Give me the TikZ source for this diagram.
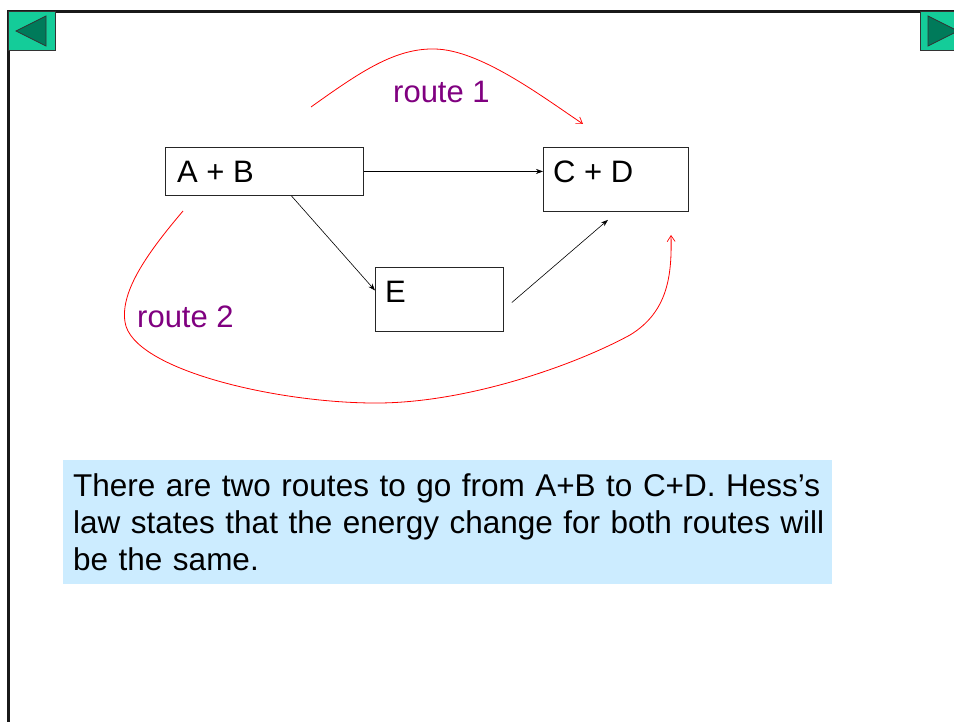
\documentclass[tikz,border=0pt]{standalone}
\usepackage{fontspec}
\setmainfont{Liberation Sans}
\usetikzlibrary{arrows.meta,calc}
\definecolor{btn}{RGB}{20,204,153}
\definecolor{btndark}{RGB}{0,122,90}
\definecolor{rpurple}{RGB}{128,0,128}
\definecolor{note}{RGB}{204,236,255}
\begin{document}
\begin{tikzpicture}[x=1pt,y=-1pt,
  box/.style={draw=black!85,line width=0.9pt,anchor=north west,inner sep=0pt},
  lbl/.style={anchor=base west,inner sep=0pt,font=\fontsize{31}{37}\selectfont},
  rlbl/.style={lbl,text=rpurple},
  conn/.style={line width=0.6pt,-{Stealth[length=7pt,width=5pt]}},
  route/.style={red,line width=0.8pt,-{Straight Barb[length=6pt,width=8pt,line width=0.7pt]}},
  button/.style={fill=btn,draw=black!80,line width=1pt},
  tri/.style={fill=btndark,draw=black!80,line width=0.8pt}]
\useasboundingbox (0,0) rectangle (954,722);
\fill[white] (0,0) rectangle (954,722);
% frame
\draw[line width=3pt,black!90] (8,722) -- (8,12) -- (954,12);
% buttons
\draw[button] (8,12) rectangle (55,51);
\draw[tri] (16,31) -- (46,16) -- (46,46) -- cycle;
\draw[button] (920,12) rectangle (960,51);
\draw[tri] (928,16) -- (958,31) -- (928,46) -- cycle;
% boxes
\node[box,minimum width=198pt,minimum height=48pt] (ab) at (165,147) {};
\node[box,minimum width=145pt,minimum height=64pt] (cd) at (543,147) {};
\node[box,minimum width=128pt,minimum height=64pt] (e) at (375,267) {};
\node[lbl] (abt) at (177,183) {A + B};
\node[lbl] (cdt) at (553,183) {C + D};
\node[lbl] (et) at (385,303) {E};
% connectors
\draw[conn] (ab.east) -- (ab.east -| cd.west);
\draw[conn] ([xshift=27pt]ab.south) -- ([yshift=9pt]e.west);
\coordinate (es) at ([xshift=8pt,yshift=-3pt]e.east);
\draw[conn] (es) -- ([xshift=-8pt,yshift=-8pt]cd.south);
% routes
\coordinate (r1s) at (311,107);
\coordinate (r1e) at (583,124);
\draw[route] (r1s) .. controls (360,72) and (395,48) .. (435,49)
  .. controls (480,50) and (540,95) .. (r1e);
\node[rlbl] (r1) at (393,103) {route 1};
\coordinate (r2s) at (183,211);
\coordinate (r2e) at (671,235);
\draw[route] (r2s) .. controls (150,250) and (120,290) .. (125,322)
  .. controls (132,370) and (280,404) .. (380,403)
  .. controls (470,402) and (575,365) .. (630,335)
  .. controls (668,312) and (672,275) .. (r2e);
\node[rlbl] (r2) at (137,327) {route 2};
% note
\node[fill=note,anchor=north west,minimum width=769pt,minimum height=124pt,inner sep=0pt] (notebox) at (63,460) {};
\node[anchor=north west,inner sep=0pt,text width=765pt,align=left,font=\fontsize{31.5}{37}\selectfont] (notetext) at (73,473)
  {There are two routes to go from A+B to C+D. Hess’s\\law states that the energy change for both routes will\\be the same.};
\end{tikzpicture}
\end{document}
